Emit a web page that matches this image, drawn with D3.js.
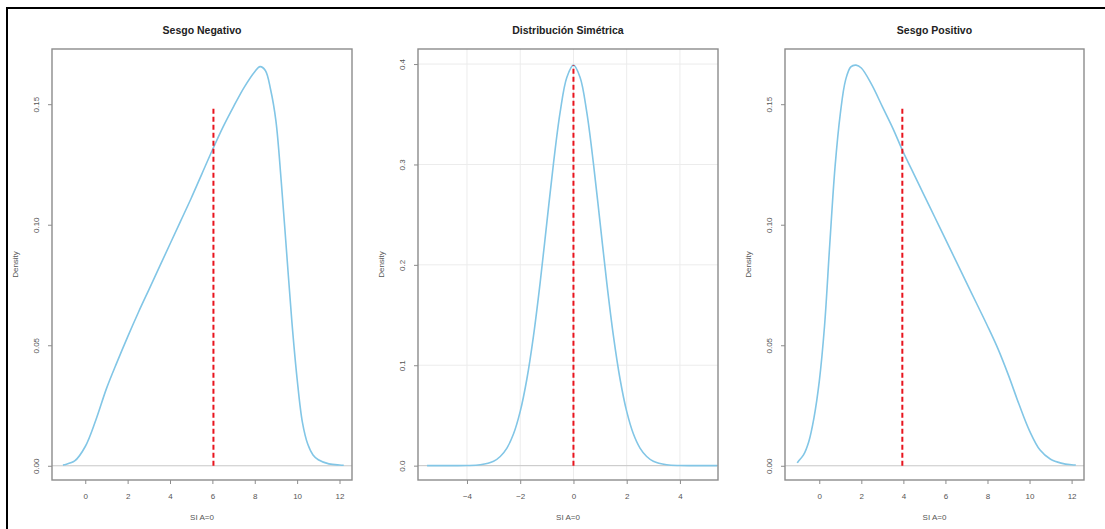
<!DOCTYPE html>
<html>
<head>
<meta charset="utf-8">
<script src="https://cdn.jsdelivr.net/npm/d3@7"></script>
<style>
  html, body { margin: 0; padding: 0; background: #fff; }
  svg { display: block; font-family: "Liberation Sans", Arial, sans-serif; }
</style>
</head>
<body>
<svg id="chart" width="1105" height="529"></svg>
<script>
// Panel titles
const titles = ["Sesgo Negativo", "Distribución Simétrica", "Sesgo Positivo"];
const xLabel = "SI A=0";
const yLabel = "Density";

// Density curve for the negatively skewed sample
const negX = [-1.05, -1.0, -0.5, 0, 0.5, 1.0, 1.5, 2.0, 2.5, 3.0, 3.5, 4.0, 4.5, 5.0, 5.5, 6.0, 6.5, 7.0, 7.5, 8.0, 8.25, 8.5, 8.75, 9.0, 9.25, 9.5, 9.75, 10.0, 10.25, 10.5, 10.75, 11.0, 11.5, 12.0, 12.2];
const negY = [0.0002, 0.0004, 0.002, 0.008, 0.019, 0.032, 0.043, 0.0535, 0.0635, 0.073, 0.0825, 0.092, 0.1015, 0.111, 0.121, 0.131, 0.1405, 0.149, 0.157, 0.1635, 0.1656, 0.1640, 0.1560, 0.1430, 0.1180, 0.0890, 0.0600, 0.0360, 0.0180, 0.0090, 0.0045, 0.0025, 0.0008, 0.0003, 0.0002];

// Density curve for the symmetric sample
const symX = [-5.5, -5.0, -4.5, -4.0, -3.5, -3.0, -2.75, -2.5, -2.25, -2.0, -1.75, -1.5, -1.25, -1.0, -0.75, -0.5, -0.25, 0, 0.25, 0.5, 0.75, 1.0, 1.25, 1.5, 1.75, 2.0, 2.25, 2.5, 2.75, 3.0, 3.5, 4.0, 4.5, 5.0, 5.4];
const symY = [0.0, 0.0, 0.0, 0.0001, 0.0009, 0.0044, 0.0091, 0.0175, 0.0317, 0.054, 0.0863, 0.1295, 0.1826, 0.242, 0.3011, 0.3521, 0.3867, 0.3989, 0.3867, 0.3521, 0.3011, 0.242, 0.1826, 0.1295, 0.0863, 0.054, 0.0317, 0.0175, 0.0091, 0.0044, 0.0009, 0.0001, 0.0, 0.0, 0.0];

// Density curve for the positively skewed sample
const posX = [-1.05, -1.0, -0.75, -0.5, -0.25, 0, 0.25, 0.5, 0.75, 1.0, 1.25, 1.5, 1.75, 2.0, 2.5, 3.0, 3.5, 4.0, 4.5, 5.0, 5.5, 6.0, 6.5, 7.0, 7.5, 8.0, 8.5, 9.0, 9.5, 10.0, 10.5, 11.0, 11.5, 12.0, 12.2];
const posY = [0.0012, 0.0018, 0.0045, 0.010, 0.020, 0.035, 0.058, 0.092, 0.124, 0.146, 0.160, 0.1655, 0.1662, 0.165, 0.158, 0.149, 0.140, 0.130, 0.121, 0.112, 0.103, 0.094, 0.085, 0.076, 0.067, 0.058, 0.0485, 0.0375, 0.0255, 0.0145, 0.0065, 0.0027, 0.0011, 0.0004, 0.0003];

// Mean markers: position and height of each dashed segment
const meanX = [6.05, 0, 3.95];
const meanTop = [0.149, 0.399, 0.149];

// Tick values
const negXTicks = [0, 2, 4, 6, 8, 10, 12];
const symXTicks = [-4, -2, 0, 2, 4];
const posXTicks = [0, 2, 4, 6, 8, 10, 12];
const skewYTicks = [0.00, 0.05, 0.10, 0.15];
const symYTicks = [0.0, 0.1, 0.2, 0.3, 0.4];

const panels = [
  { title: titles[0], xs: negX, ys: negY, xDom: [-1.57, 12.59], yDom: [-0.0059, 0.1729],
    xTicks: negXTicks, yTicks: skewYTicks, yFmt: d3.format(".2f"), grid: false,
    left: 52, right: 352, mean: meanX[0], top: meanTop[0] },
  { title: titles[1], xs: symX, ys: symY, xDom: [-5.84, 5.43], yDom: [-0.0143, 0.415],
    xTicks: symXTicks, yTicks: symYTicks, yFmt: d3.format(".1f"), grid: true,
    left: 418, right: 718, mean: meanX[1], top: meanTop[1] },
  { title: titles[2], xs: posX, ys: posY, xDom: [-1.63, 12.59], yDom: [-0.0059, 0.1729],
    xTicks: posXTicks, yTicks: skewYTicks, yFmt: d3.format(".2f"), grid: false,
    left: 785, right: 1084, mean: meanX[2], top: meanTop[2] }
];

const svg = d3.select("#chart");
const plotTop = 49, plotBottom = 480;

// Outer frame
svg.append("rect")
  .attr("x", 7).attr("y", 8)
  .attr("width", 1110).attr("height", 540)
  .attr("fill", "none").attr("stroke", "#000").attr("stroke-width", 2);

panels.forEach(p => {
  const x = d3.scaleLinear().domain(p.xDom).range([p.left, p.right]);
  const y = d3.scaleLinear().domain(p.yDom).range([plotBottom, plotTop]);
  const g = svg.append("g");

  // Light reference grid
  if (p.grid) {
    g.selectAll(".vg").data(p.xTicks).join("line")
      .attr("x1", d => x(d)).attr("x2", d => x(d))
      .attr("y1", plotTop).attr("y2", plotBottom)
      .attr("stroke", "#ececec").attr("stroke-width", 1);
    g.selectAll(".hg").data(p.yTicks).join("line")
      .attr("x1", p.left).attr("x2", p.right)
      .attr("y1", d => y(d)).attr("y2", d => y(d))
      .attr("stroke", "#ececec").attr("stroke-width", 1);
  }

  // Zero line
  g.append("line")
    .attr("x1", p.left).attr("x2", p.right)
    .attr("y1", y(0)).attr("y2", y(0))
    .attr("stroke", "#c8c8c8").attr("stroke-width", 1);

  // Density curve
  const line = d3.line()
    .x((d, i) => x(p.xs[i]))
    .y(d => y(d))
    .curve(d3.curveCatmullRom.alpha(0.5));
  g.append("path")
    .datum(p.ys)
    .attr("d", line)
    .attr("fill", "none")
    .attr("stroke", "#82c6e6")
    .attr("stroke-width", 1.6);

  // Mean marker
  g.append("line")
    .attr("x1", x(p.mean)).attr("x2", x(p.mean))
    .attr("y1", y(0)).attr("y2", y(p.top))
    .attr("stroke", "#e8141e").attr("stroke-width", 2)
    .attr("stroke-dasharray", "5,3");

  // Plot box
  g.append("rect")
    .attr("x", p.left).attr("y", plotTop)
    .attr("width", p.right - p.left).attr("height", plotBottom - plotTop)
    .attr("fill", "none").attr("stroke", "#8c8c8c").attr("stroke-width", 1.4);

  // Axes
  const xAxis = g.append("g")
    .attr("transform", `translate(0,${plotBottom})`)
    .call(d3.axisBottom(x).tickValues(p.xTicks).tickSize(4).tickPadding(9).tickFormat(d3.format("d")));
  const yAxis = g.append("g")
    .attr("transform", `translate(${p.left},0)`)
    .call(d3.axisLeft(y).tickValues(p.yTicks).tickSize(4).tickFormat(p.yFmt));
  [xAxis, yAxis].forEach(a => {
    a.select(".domain").remove();
    a.selectAll(".tick line").attr("stroke", "#8c8c8c").attr("stroke-width", 1);
    a.selectAll("text").attr("fill", "#555").style("font-size", "8px");
  });
  // Vertical y tick labels
  yAxis.selectAll(".tick text")
    .attr("x", null).attr("dy", null)
    .attr("text-anchor", "middle")
    .attr("transform", "translate(-13,0) rotate(-90)");

  // Title
  g.append("text")
    .attr("x", (p.left + p.right) / 2).attr("y", 34)
    .attr("text-anchor", "middle")
    .style("font-size", "10.5px").style("font-weight", "bold")
    .attr("fill", "#222")
    .text(p.title);

  // Axis titles
  g.append("text")
    .attr("x", (p.left + p.right) / 2).attr("y", 520)
    .attr("text-anchor", "middle")
    .style("font-size", "8px").attr("fill", "#555")
    .text(xLabel);
  g.append("text")
    .attr("transform", `translate(${p.left - 34},${(plotTop + plotBottom) / 2}) rotate(-90)`)
    .attr("text-anchor", "middle")
    .style("font-size", "8px").attr("fill", "#555")
    .text(yLabel);
});
</script>
</body>
</html>
